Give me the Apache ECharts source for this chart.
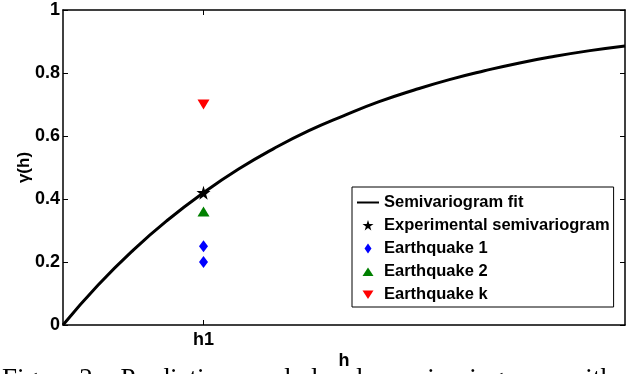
<!DOCTYPE html>
<html>
<head>
<meta charset="utf-8">
<script src="https://cdn.jsdelivr.net/npm/echarts@6/dist/echarts.min.js"></script>
<style>
  html, body { margin: 0; padding: 0; background: #fff; }
  #chart { width: 636px; height: 374px; }
</style>
</head>
<body>
<div id="chart"></div>
<script>
// Fitted semivariogram curve: lag h (in units of h1) and gamma(h)
const fitLags = [0, 0.25, 0.5, 0.75, 1.0, 1.25, 1.5, 1.75, 2.0, 2.25, 2.5, 2.75, 3.0, 3.25, 3.5, 3.75, 4.0];
const fitGamma = [0, 0.127, 0.238, 0.335, 0.42, 0.495, 0.56, 0.617, 0.665, 0.709, 0.746, 0.779, 0.807, 0.832, 0.853, 0.871, 0.886];

// Point estimates at lag h1
const h1 = 1;
const experimentalGamma = [0.42];
const quake1Gamma = [0.25, 0.20];
const quake2Gamma = [0.36];
const quakeKGamma = [0.70];

// Axis ticks
const xTickValues = [1];
const xTickLabels = ['h1'];
const yTickValues = [0, 0.2, 0.4, 0.6, 0.8, 1];
const yTickLabels = ['0', '0.2', '0.4', '0.6', '0.8', '1'];

const seriesNames = ['Semivariogram fit', 'Experimental semivariogram', 'Earthquake 1', 'Earthquake 2', 'Earthquake k'];
const captionText = 'Figure 2:   Prediction   and   local   semivariogram   with   the';

const FONT = "'Liberation Sans', Arial, Helvetica, sans-serif";
const STAR = 'path://M50,0 L61,35 L98,35 L68,57 L79,91 L50,70 L21,91 L32,57 L2,35 L39,35 Z';
const DOWN_TRI = 'path://M0,0 L10,0 L5,9 Z';

// Legend glyphs, each drawn inside a 22x11 box so nothing gets stretched
const LEG_LINE = 'path://M0,0 M22,11 M0,4.5 L22,4.5 L22,6.5 L0,6.5 Z';
const LEG_STAR = 'path://M0,0 M22,11 M11,0 L12.3,4 L16.5,4 L13.1,6.6 L14.3,10.5 L11,8.1 L7.7,10.5 L8.9,6.6 L5.5,4 L9.7,4 Z';
const LEG_DIAMOND = 'path://M0,0 M22,11 M11,0.5 L14.5,5.5 L11,10.5 L7.5,5.5 Z';
const LEG_TRI = 'path://M0,0 M22,11 M11,1.5 L16.5,10 L5.5,10 Z';
const LEG_DOWN = 'path://M0,0 M22,11 M5.5,1.5 L16.5,1.5 L11,10 Z';

const pairs = (xs, ys) => xs.map((x, i) => [x, ys[i]]);
const atH1 = ys => ys.map(y => [h1, y]);

const chart = echarts.init(document.getElementById('chart'), null, { renderer: 'canvas' });

const xLabelMap = {};
xTickValues.forEach((v, i) => { xLabelMap[v] = xTickLabels[i]; });
const yLabelMap = {};
yTickValues.forEach((v, i) => { yLabelMap[v] = yTickLabels[i]; });

const axisLine = { show: true, onZero: false, lineStyle: { color: '#000', width: 1.5 } };
const tickStyle = { show: true, inside: true, length: 5, lineStyle: { color: '#000', width: 1 } };

chart.setOption({
  animation: false,
  backgroundColor: '#fff',
  grid: { left: 63, top: 10, right: 11, bottom: 49, containLabel: false, outerBoundsMode: 'none' },
  xAxis: [
    {
      type: 'value', min: 0, max: 4, position: 'bottom',
      name: 'h', nameLocation: 'middle', nameGap: 27, nameMoveOverlap: false,
      nameTextStyle: { fontFamily: FONT, fontWeight: 'bold', fontSize: 18, color: '#000' },
      axisLine: axisLine,
      axisTick: Object.assign({}, tickStyle, { customValues: xTickValues }),
      axisLabel: {
        customValues: xTickValues, margin: 6,
        formatter: v => xLabelMap[v] || '',
        fontFamily: FONT, fontWeight: 'bold', fontSize: 18, color: '#000'
      },
      splitLine: { show: false }
    },
    {
      type: 'value', min: 0, max: 4, position: 'top',
      axisLine: axisLine,
      axisTick: Object.assign({}, tickStyle, { customValues: xTickValues }),
      axisLabel: { show: false },
      splitLine: { show: false }
    }
  ],
  yAxis: [
    {
      type: 'value', min: 0, max: 1, interval: 0.2, position: 'left',
      name: 'γ(h)', nameLocation: 'middle', nameGap: 30, nameRotate: 90, nameMoveOverlap: false,
      nameTextStyle: { fontFamily: FONT, fontWeight: 'bold', fontSize: 17, color: '#000' },
      axisLine: axisLine,
      axisTick: tickStyle,
      axisLabel: {
        margin: 3,
        formatter: v => {
          const k = Math.round(v * 10) / 10;
          return yLabelMap[k] !== undefined ? yLabelMap[k] : '';
        },
        fontFamily: FONT, fontWeight: 'bold', fontSize: 18, color: '#000'
      },
      splitLine: { show: false }
    },
    {
      type: 'value', min: 0, max: 1, interval: 0.2, position: 'right',
      axisLine: axisLine,
      axisTick: tickStyle,
      axisLabel: { show: false },
      splitLine: { show: false }
    }
  ],
  legend: {
    orient: 'vertical',
    left: 352, top: 187,
    padding: [7, 4, 4, 5],
    itemWidth: 22, itemHeight: 11, itemGap: 6,
    backgroundColor: '#fff',
    borderColor: '#000', borderWidth: 1, borderRadius: 0,
    textStyle: { fontFamily: FONT, fontWeight: 'bold', fontSize: 16.5, color: '#000' },
    data: [
      { name: seriesNames[0], icon: LEG_LINE, itemStyle: { opacity: 1 } },
      { name: seriesNames[1], icon: LEG_STAR, itemStyle: { opacity: 1 } },
      { name: seriesNames[2], icon: LEG_DIAMOND, itemStyle: { opacity: 1 } },
      { name: seriesNames[3], icon: LEG_TRI, itemStyle: { opacity: 1 } },
      { name: seriesNames[4], icon: LEG_DOWN, itemStyle: { opacity: 1 } }
    ]
  },
  graphic: [
    {
      type: 'text', left: 2, top: 366, silent: true,
      style: {
        text: captionText,
        font: "27px 'Liberation Serif', 'Times New Roman', serif",
        fill: '#000'
      }
    }
  ],
  series: [
    {
      name: seriesNames[0], type: 'line', smooth: true, showSymbol: false, symbol: 'none',
      data: pairs(fitLags, fitGamma),
      lineStyle: { color: '#000', width: 3 },
      itemStyle: { color: '#000' },
      z: 2
    },
    {
      name: seriesNames[1], type: 'scatter', symbol: STAR, symbolSize: 14,
      data: atH1(experimentalGamma),
      itemStyle: { color: '#000', opacity: 1 }, z: 5
    },
    {
      name: seriesNames[2], type: 'scatter', symbol: 'diamond', symbolSize: [9, 12],
      data: atH1(quake1Gamma),
      itemStyle: { color: '#0000ff', opacity: 1 }, z: 4
    },
    {
      name: seriesNames[3], type: 'scatter', symbol: 'triangle', symbolSize: [12, 10],
      data: atH1(quake2Gamma),
      itemStyle: { color: '#008000', opacity: 1 }, z: 4
    },
    {
      name: seriesNames[4], type: 'scatter', symbol: DOWN_TRI, symbolSize: [12, 10],
      data: atH1(quakeKGamma),
      itemStyle: { color: '#ff0000', opacity: 1 }, z: 4
    }
  ]
});
</script>
</body>
</html>
